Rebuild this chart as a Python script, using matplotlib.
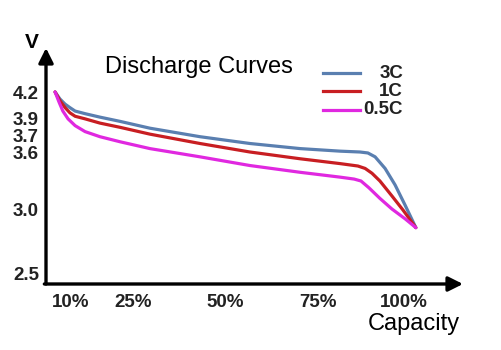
import numpy as np
import matplotlib
matplotlib.use('Agg')
import matplotlib.pyplot as plt

plt.rcParams['font.family'] = ['Liberation Sans', 'DejaVu Sans']

# data
cap_3c = [5.7, 7.0, 8.4, 9.7, 11.0, 13.4, 17.0, 21.9, 29.6, 43.2, 56.7, 70.2, 81.4, 87.2,
          89.5, 91.6, 94.5, 97.4, 100.3, 103.2]
volt_3c = [4.20, 4.12, 4.06, 4.02, 3.98, 3.95, 3.91, 3.86, 3.78, 3.69, 3.65, 3.62, 3.605, 3.60,
           3.59, 3.55, 3.43, 3.26, 3.05, 2.86]

cap_1c = [5.7, 7.0, 8.4, 9.7, 11.0, 13.4, 17.0, 21.9, 29.6, 43.2, 56.7, 70.2, 81.4, 86.6,
          88.7, 90.7, 93.0, 96.5, 99.7, 103.2]
volt_1c = [4.20, 4.10, 4.02, 3.96, 3.92, 3.89, 3.84, 3.79, 3.71, 3.65, 3.60, 3.53, 3.48, 3.455,
           3.43, 3.38, 3.30, 3.145, 3.00, 2.86]

cap_05c = [5.7, 6.8, 7.8, 9.2, 11.0, 13.4, 17.0, 21.9, 29.6, 43.2, 56.7, 70.2, 81.4, 85.5,
           87.5, 89.8, 93.0, 96.5, 100.3, 103.2]
volt_05c = [4.20, 4.08, 3.98, 3.89, 3.81, 3.74, 3.69, 3.66, 3.62, 3.55, 3.46, 3.39, 3.34, 3.32,
            3.30, 3.23, 3.12, 3.01, 2.93, 2.86]

labels = ['3C', '1C', '0.5C']
colors = ['#5a7fb0', '#c81e22', '#e028e0']

y_ticks = [2.5, 3.0, 3.6, 3.7, 3.9, 4.2]
x_ticks = [10, 25, 50, 75, 100]
x_ticklabels = ['10%', '25%', '50%', '75%', '100%']

# the drawing's axes are not linear: piecewise scales through the tick marks
x_anchor = [0, 10, 25, 50, 75, 100, 120]
x_pos = [34, 71, 133, 225, 318, 404, 478]
y_anchor = [2.0, 2.5, 3.0, 3.6, 3.7, 3.9, 4.2, 5.0]
y_pos = [-336, -273, -210, -152, -135, -118, -92, -23]


def fx(v):
    return np.interp(v, x_anchor, x_pos)


def fx_inv(p):
    return np.interp(p, x_pos, x_anchor)


def fy(v):
    return np.interp(v, y_anchor, y_pos)


def fy_inv(p):
    return np.interp(p, y_pos, y_anchor)


W, H = 501, 350
fig = plt.figure(figsize=(W / 100, H / 100), dpi=100)
left, right, bottom, top = 46, 463, 284, 48
ax = fig.add_axes([left / W, 1 - bottom / H, (right - left) / W, (bottom - top) / H])
ax.set_xscale('function', functions=(fx, fx_inv))
ax.set_yscale('function', functions=(fy, fy_inv))
ax.set_xlim(fx_inv(left), fx_inv(right))
ax.set_ylim(fy_inv(-bottom), fy_inv(-top))

for cap, volt, c in zip([cap_3c, cap_1c, cap_05c], [volt_3c, volt_1c, volt_05c], colors):
    ax.plot(cap, volt, color=c, lw=2.3, solid_capstyle='round', solid_joinstyle='round')

for s in ax.spines.values():
    s.set_visible(False)
ax.annotate('', xy=(0, 1), xytext=(0, 0), xycoords='axes fraction',
            arrowprops=dict(arrowstyle='-|>', lw=2.4, color='black', mutation_scale=22, shrinkA=0, shrinkB=0))
ax.annotate('', xy=(1, 0), xytext=(-0.004, 0), xycoords='axes fraction',
            arrowprops=dict(arrowstyle='-|>', lw=2.4, color='black', mutation_scale=22, shrinkA=0, shrinkB=0))

ax.set_yticks(y_ticks)
ax.set_yticklabels([f'{v:.1f}' for v in y_ticks])
ax.set_xticks(x_ticks)
ax.set_xticklabels(x_ticklabels)
ax.minorticks_off()
ax.tick_params(axis='y', length=0, pad=5, labelsize=13.5, labelcolor='#222222')
ax.tick_params(axis='x', length=0, pad=7, labelsize=13.5, labelcolor='#222222')
for t in ax.get_xticklabels() + ax.get_yticklabels():
    t.set_fontweight('bold')


def fp(x, y):
    return x / W, 1 - y / H


fig.text(*fp(32, 43), 'V', ha='center', va='center', fontsize=15, fontweight='bold')
fig.text(*fp(105, 73), 'Discharge Curves', ha='left', va='baseline', fontsize=17)
fig.text(*fp(414, 330), 'Capacity', ha='center', va='baseline', fontsize=17)

# legend
leg_y = [73, 91, 110]
for lab, c, ly in zip(labels, colors, leg_y):
    x0, y0 = fp(323, ly)
    x1, _ = fp(360, ly)
    fig.add_artist(plt.Line2D([x0, x1], [y0, y0], color=c, lw=2.3, transform=fig.transFigure))
    fig.text(*fp(403, ly), lab, ha='right', va='center', fontsize=13.5, fontweight='bold', color='#222222')

fig.savefig('out.png', dpi=100)
